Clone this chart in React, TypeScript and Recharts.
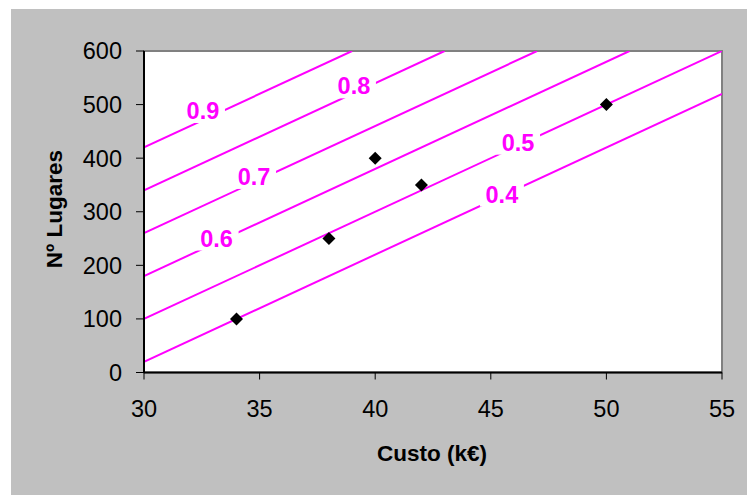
import React from 'react';
import { ComposedChart, Line, Scatter, XAxis, YAxis, ReferenceArea } from 'recharts';

// Iso-lines (level label, start at x=30, end point)
const isoLevels = ['0.4', '0.5', '0.6', '0.7', '0.8', '0.9'];
const isoStartY = [20, 100, 180, 260, 340, 420];
const isoEndX = [55, 55, 51, 47, 43, 39];
const isoEndY = [520, 600, 600, 600, 600, 600];

// Label anchor positions for each iso-line
const labelX = [45.48, 46.18, 33.14, 34.76, 39.08, 32.55];
const labelY = [332, 429, 250, 365, 534, 488];

// Observed points
const pointsX = [34, 38, 40, 42, 50];
const pointsY = [100, 250, 400, 350, 500];

const xTicks = [30, 35, 40, 45, 50, 55];
const yTicks = [0, 100, 200, 300, 400, 500, 600];

const FONT = '"Liberation Sans", Arial, sans-serif';
const MAGENTA = '#FF00FF';

const isoData = isoLevels.map((lvl, i) => ({
  level: lvl,
  data: [
    { x: 30, y: isoStartY[i] },
    { x: isoEndX[i], y: isoEndY[i] },
  ],
}));

const labelData = isoLevels.map((lvl, i) => ({ x: labelX[i], y: labelY[i], text: lvl }));
const pointData = pointsX.map((x, i) => ({ x, y: pointsY[i] }));

const LabelShape = (props: any) => {
  const { cx, cy, payload } = props;
  return (
    <g>
      <rect x={cx - 22} y={cy - 12} width={44} height={24} fill="#FFFFFF" />
      <text
        x={cx}
        y={cy}
        textAnchor="middle"
        dominantBaseline="central"
        fill={MAGENTA}
        fontFamily={FONT}
        fontWeight="bold"
        fontSize={23.5}
      >
        {payload.text}
      </text>
    </g>
  );
};

const DiamondShape = (props: any) => {
  const { cx, cy } = props;
  const r = 6.5;
  return (
    <path
      d={`M${cx},${cy - r} L${cx + r},${cy} L${cx},${cy + r} L${cx - r},${cy} Z`}
      fill="#000000"
    />
  );
};

export default function App() {
  return (
    <div style={{ position: 'absolute', left: 0, top: 0, width: 747, height: 495, background: '#FFFFFF' }}>
      <div style={{ position: 'absolute', left: 11, top: 9, width: 736, height: 486, background: '#C0C0C0' }}>
        <ComposedChart
          width={736}
          height={486}
          margin={{ top: 42, right: 25, left: 0, bottom: 82.5 }}
        >
          <ReferenceArea
            x1={30}
            x2={55}
            y1={0}
            y2={600}
            fill="#FFFFFF"
            fillOpacity={1}
            stroke="#808080"
            strokeWidth={2}
            ifOverflow="visible"
          />
          <XAxis
            type="number"
            dataKey="x"
            domain={[30, 55]}
            ticks={xTicks}
            allowDataOverflow
            height={40}
            tickSize={7}
            tickMargin={21}
            axisLine={{ stroke: '#000000', strokeWidth: 2 }}
            tickLine={{ stroke: '#000000', strokeWidth: 1 }}
            tick={{ fill: '#000000', fontSize: 23.5, fontFamily: FONT }}
          />
          <YAxis
            type="number"
            dataKey="y"
            domain={[0, 600]}
            ticks={yTicks}
            allowDataOverflow
            width={133}
            tickSize={8}
            tickMargin={14}
            axisLine={{ stroke: '#000000', strokeWidth: 2 }}
            tickLine={{ stroke: '#000000', strokeWidth: 1 }}
            tick={{ fill: '#000000', fontSize: 23.5, fontFamily: FONT }}
          />
          {isoData.map((s) => (
            <Line
              key={s.level}
              data={s.data}
              dataKey="y"
              type="linear"
              stroke={MAGENTA}
              strokeWidth={2}
              dot={false}
              activeDot={false}
              isAnimationActive={false}
              legendType="none"
            />
          ))}
          <Scatter data={labelData} dataKey="y" shape={LabelShape} isAnimationActive={false} />
          <Scatter data={pointData} dataKey="y" shape={DiamondShape} isAnimationActive={false} />
        </ComposedChart>
        <svg
          width={736}
          height={486}
          style={{ position: 'absolute', left: 0, top: 0, pointerEvents: 'none' }}
        >
          <text
            x={421}
            y={444}
            textAnchor="middle"
            dominantBaseline="central"
            fontFamily={FONT}
            fontWeight="bold"
            fontSize={22.5}
            fill="#000000"
          >
            Custo (k€)
          </text>
          <text
            x={43}
            y={200}
            textAnchor="middle"
            dominantBaseline="central"
            fontFamily={FONT}
            fontWeight="bold"
            fontSize={22.5}
            fill="#000000"
            transform="rotate(-90 43 200)"
          >
            Nº Lugares
          </text>
        </svg>
      </div>
    </div>
  );
}
